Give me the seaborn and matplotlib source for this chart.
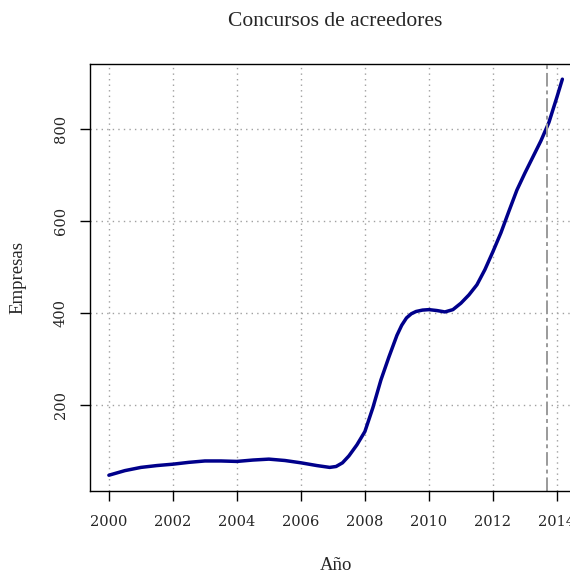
import matplotlib
matplotlib.use("Agg")
import matplotlib.pyplot as plt
import seaborn as sns
import pandas as pd

years = [2000.0, 2000.5, 2001.0, 2001.5, 2002.0, 2002.5, 2003.0, 2003.5, 2004.0, 2004.5,
         2005.0, 2005.5, 2006.0, 2006.5, 2006.9, 2007.1, 2007.3, 2007.5, 2007.75, 2008.0,
         2008.25, 2008.5, 2008.75, 2009.0, 2009.15, 2009.3, 2009.45, 2009.6, 2009.8, 2010.0,
         2010.25, 2010.5, 2010.75, 2011.0, 2011.25, 2011.5, 2011.75, 2012.0, 2012.25, 2012.5,
         2012.75, 2013.0, 2013.25, 2013.5, 2013.75, 2014.0, 2014.17]
empresas = [48, 58, 65, 69, 72, 76, 79, 79, 78, 81,
            83, 80, 75, 69, 65, 67, 75, 90, 114, 143,
            195, 255, 305, 352, 374, 390, 399, 404, 407, 408,
            406, 403, 408, 422, 440, 462, 495, 534, 575, 622,
            668, 705, 740, 775, 815, 870, 909]
x_ticks = [2000, 2002, 2004, 2006, 2008, 2010, 2012, 2014]
y_ticks = [200, 400, 600, 800]
cut_year = 2013.7

title = "Concursos de acreedores"
xlabel = "Año"
ylabel = "Empresas"

df = pd.DataFrame({"year": years, "empresas": empresas})

sns.set_style("white")
plt.rcParams["font.family"] = ["Liberation Serif", "DejaVu Serif"]
tick_font = ["DejaVu Serif"]

fig = plt.figure(figsize=(5.70, 5.72), dpi=100)
ax = fig.add_axes([90 / 570, 81 / 572, 490.6 / 570, 427 / 572])

sns.lineplot(data=df, x="year", y="empresas", ax=ax, color="#00008B", linewidth=2.5)
ax.axvline(cut_year, color="#9a9a9a", linewidth=1.4, linestyle=(0, (7, 2, 2, 2)))

ax.set_xlim(1999.41, 2014.74)
ax.set_ylim(13.7, 942)
ax.set_xticks(x_ticks)
ax.set_yticks(y_ticks)
ax.set_xticklabels([str(t) for t in x_ticks], fontsize=10.5, family=tick_font)
ax.set_yticklabels([str(t) for t in y_ticks], fontsize=10.5, family=tick_font,
                   rotation=90, va="center")
ax.tick_params(axis="both", direction="out", length=7, width=1, color="black",
               bottom=True, left=True)
ax.tick_params(axis="x", pad=10)
ax.tick_params(axis="y", pad=9)

ax.grid(True, linestyle=(0, (1, 3)), color="#a0a0a0", linewidth=1)
for s in ax.spines.values():
    s.set_visible(True)
    s.set_color("black")
    s.set_linewidth(1)

ax.set_xlabel("")
ax.set_ylabel("")
fig.text(336 / 570, 1 - 565 / 572, xlabel, ha="center", va="center", fontsize=13.5)
fig.text(18 / 570, 1 - 277 / 572, ylabel, ha="center", va="center", fontsize=13.5,
         rotation=90)
fig.text(335 / 570, 1 - 22 / 572, title, ha="center", va="center", fontsize=15.5)

fig.savefig("out.png", dpi=100)
